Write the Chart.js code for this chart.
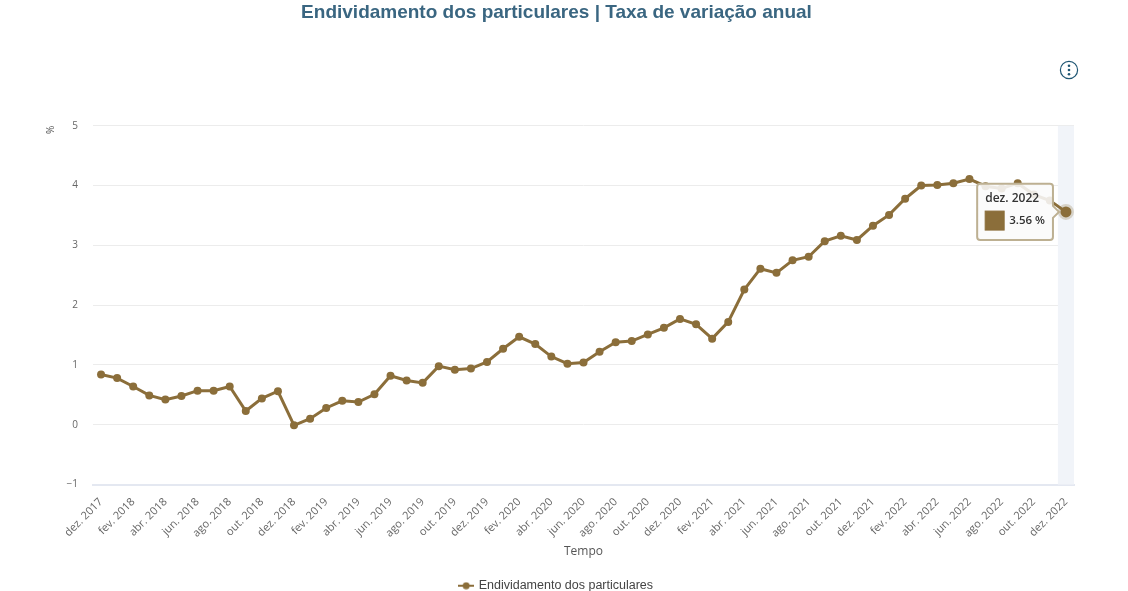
<!DOCTYPE html>
<html lang="pt">
<head>
<meta charset="utf-8">
<title>Endividamento dos particulares</title>
<script src="https://cdn.jsdelivr.net/npm/chart.js@4"></script>
<style>
  html, body { margin: 0; padding: 0; background: #fff; }
  #wrap { position: relative; width: 1128px; height: 591px; overflow: hidden; }
  #info { position: absolute; left: 1059px; top: 60px; }
</style>
</head>
<body>
<div id="wrap">
  <canvas id="chart" width="1113" height="591"></canvas>
  <svg id="info" width="20" height="20" viewBox="0 0 20 20">
    <circle cx="10" cy="10" r="8.6" fill="none" stroke="#1f5673" stroke-width="1.2"/>
    <circle cx="10" cy="5.8" r="1.3" fill="#1f5673"/>
    <circle cx="10" cy="10" r="1.3" fill="#1f5673"/>
    <circle cx="10" cy="14.2" r="1.3" fill="#1f5673"/>
  </svg>
</div>
<script>
const months = [
  "dez. 2017",
  "jan. 2018", "fev. 2018", "mar. 2018", "abr. 2018", "mai. 2018", "jun. 2018",
  "jul. 2018", "ago. 2018", "set. 2018", "out. 2018", "nov. 2018", "dez. 2018",
  "jan. 2019", "fev. 2019", "mar. 2019", "abr. 2019", "mai. 2019", "jun. 2019",
  "jul. 2019", "ago. 2019", "set. 2019", "out. 2019", "nov. 2019", "dez. 2019",
  "jan. 2020", "fev. 2020", "mar. 2020", "abr. 2020", "mai. 2020", "jun. 2020",
  "jul. 2020", "ago. 2020", "set. 2020", "out. 2020", "nov. 2020", "dez. 2020",
  "jan. 2021", "fev. 2021", "mar. 2021", "abr. 2021", "mai. 2021", "jun. 2021",
  "jul. 2021", "ago. 2021", "set. 2021", "out. 2021", "nov. 2021", "dez. 2021",
  "jan. 2022", "fev. 2022", "mar. 2022", "abr. 2022", "mai. 2022", "jun. 2022",
  "jul. 2022", "ago. 2022", "set. 2022", "out. 2022", "nov. 2022", "dez. 2022"
];
const taxaVariacao = [
  0.84,
  0.78, 0.64, 0.49, 0.42, 0.48, 0.57,
  0.57, 0.64, 0.23, 0.44, 0.56, -0.01,
  0.10, 0.28, 0.40, 0.38, 0.51, 0.82,
  0.74, 0.70, 0.98, 0.92, 0.94, 1.05,
  1.27, 1.47, 1.35, 1.14, 1.02, 1.04,
  1.22, 1.38, 1.40, 1.51, 1.62, 1.77,
  1.68, 1.44, 1.72, 2.26, 2.61, 2.54,
  2.75, 2.81, 3.07, 3.16, 3.09, 3.33,
  3.51, 3.78, 4.00, 4.01, 4.04, 4.11,
  3.99, 3.95, 4.04, 3.85, 3.75, 3.56
];
const serieNome = "Endividamento dos particulares";
const tituloTexto = "Endividamento dos particulares | Taxa de variação anual";

const brown = "#8b6e3a";
const lastIndex = months.length - 1;

// legend symbol: short line with a dot
function legendSymbol() {
  const c = document.createElement("canvas");
  c.width = 16;
  c.height = 8;
  const g = c.getContext("2d");
  g.strokeStyle = brown;
  g.lineWidth = 2;
  g.beginPath();
  g.moveTo(0, 4);
  g.lineTo(16, 4);
  g.stroke();
  g.fillStyle = brown;
  g.beginPath();
  g.arc(8, 4, 3.5, 0, Math.PI * 2);
  g.fill();
  return c;
}

// light band behind the hovered month
const hoverBand = {
  id: "hoverBand",
  beforeDatasetsDraw(chart) {
    const { ctx, chartArea, scales } = chart;
    const step = scales.x.getPixelForValue(1) - scales.x.getPixelForValue(0);
    const cx = scales.x.getPixelForValue(lastIndex);
    ctx.save();
    ctx.fillStyle = "#f1f4f9";
    ctx.fillRect(cx - step / 2, chartArea.top, step, chartArea.bottom - chartArea.top);
    ctx.restore();
  }
};

const chart = new Chart(document.getElementById("chart"), {
  type: "line",
  plugins: [hoverBand],
  data: {
    labels: months,
    datasets: [{
      label: serieNome,
      data: taxaVariacao,
      borderColor: brown,
      backgroundColor: brown,
      borderWidth: 3,
      tension: 0,
      pointRadius: 4,
      pointBackgroundColor: brown,
      pointBorderWidth: 0,
      pointHoverRadius: 5.5,
      pointHoverBackgroundColor: brown,
      pointHoverBorderColor: "rgba(139,110,58,0.25)",
      pointHoverBorderWidth: 5,
      pointStyle: "circle"
    }]
  },
  options: {
    responsive: false,
    animation: false,
    events: [],
    // legend sits lower than its default box allows
    layout: { padding: { bottom: -11 } },
    scales: {
      x: {
        offset: true,
        afterFit: s => { s.height = 95; },
        grid: { display: false },
        border: { color: "#e4e8f1", width: 2 },
        ticks: {
          autoSkip: false,
          minRotation: 45,
          maxRotation: 45,
          padding: 3,
          color: "#666",
          font: { family: "Open Sans", size: 11 },
          callback: function (v, i) { return i % 2 === 0 ? months[i] : ""; }
        },
        title: {
          display: true,
          text: "Tempo",
          color: "#555",
          padding: { top: 0, bottom: 21 },
          font: { family: "Open Sans", size: 12 }
        }
      },
      y: {
        min: -1,
        max: 5,
        afterFit: s => { s.width = 93; },
        grid: { color: "#ececec", tickLength: 0, lineWidth: 1 },
        border: { display: false },
        ticks: {
          stepSize: 1,
          padding: 15,
          color: "#666",
          font: { family: "Open Sans", size: 10 },
          callback: v => String(v).replace("-", "−")
        },
        title: {
          display: true,
          text: "%",
          align: "end",
          color: "#555",
          padding: { top: 45, bottom: 0 },
          font: { family: "Open Sans", size: 10 }
        }
      },
      // empty right axis, only keeps the plot off the right edge
      yRight: {
        position: "right",
        afterFit: s => { s.width = 39; },
        grid: { display: false },
        border: { display: false },
        ticks: { display: false }
      }
    },
    plugins: {
      title: {
        display: true,
        text: tituloTexto,
        color: "#3a6681",
        padding: { top: 1, bottom: 102 },
        font: { family: "Liberation Sans", size: 19, weight: "bold" }
      },
      legend: {
        position: "bottom",
        labels: {
          usePointStyle: true,
          pointStyle: legendSymbol(),
          color: "#444",
          padding: 0,
          font: { family: "Liberation Sans", size: 12.5 }
        }
      },
      tooltip: {
        enabled: true,
        xAlign: "right",
        yAlign: "center",
        backgroundColor: "rgba(250,250,250,0.88)",
        borderColor: "#bdb092",
        borderWidth: 2,
        cornerRadius: 3,
        caretSize: 6,
        caretPadding: 7,
        padding: { top: 8, bottom: 10, left: 8, right: 8 },
        titleColor: "#333",
        bodyColor: "#333",
        titleFont: { family: "Open Sans", size: 12, weight: "600" },
        bodyFont: { family: "Open Sans", size: 11.5, weight: "600" },
        titleMarginBottom: 5,
        boxWidth: 19,
        boxHeight: 19,
        boxPadding: 3,
        multiKeyBackground: brown,
        callbacks: {
          label: c => c.parsed.y.toFixed(2) + " %",
          labelColor: () => ({ borderColor: brown, backgroundColor: brown, borderWidth: 0 })
        }
      }
    }
  }
});

const active = [{ datasetIndex: 0, index: lastIndex }];
chart.setActiveElements(active);
chart.tooltip.setActiveElements(active, { x: 0, y: 0 });
chart.update();
</script>
</body>
</html>
